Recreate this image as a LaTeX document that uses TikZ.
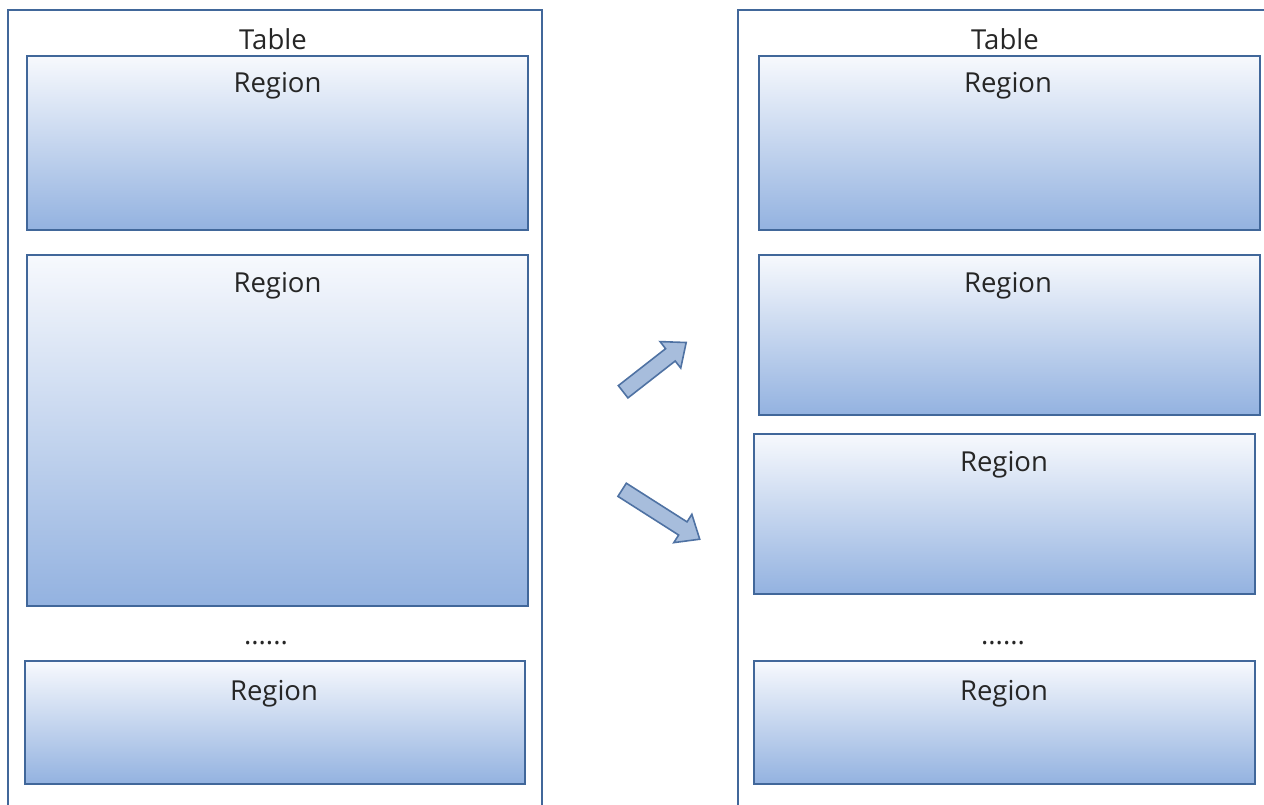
\documentclass[tikz,border=0pt]{standalone}
\usepackage{fontspec}
\setmainfont{Open Sans}
\usetikzlibrary{shapes.arrows}
\definecolor{edge}{HTML}{41679A}
\definecolor{topc}{HTML}{F7F9FD}
\definecolor{botc}{HTML}{93B2E0}
\definecolor{arrfill}{HTML}{A7BDDC}
\definecolor{arredge}{HTML}{4F72A3}
\tikzset{
  tablebox/.style={draw=edge, line width=2.4pt},
  regionbox/.style={draw=edge, line width=2pt, top color=topc, bottom color=botc, inner sep=0pt},
  lbl/.style={font=\fontsize{27.5}{30}\selectfont, text=black!85, inner sep=0pt},
  blockarrow/.style={single arrow, draw=arredge, fill=arrfill, line width=1.6pt,
    minimum width=0pt, inner xsep=0pt, inner ysep=7pt, text height=0pt, text depth=0pt,
    single arrow head extend=9pt, single arrow tip angle=80}
}
\begin{document}
\begin{tikzpicture}[x=1pt,y=-1pt]
\useasboundingbox (0,0) rectangle (1264,805);
\clip (0,0) rectangle (1264,805);
% tables
\draw[tablebox] (8,830) coordinate (tl1) -- (8,10) -- (542,10) -- (542,830) coordinate (tl2);
\draw[tablebox] (738,830) coordinate (tr1) -- (738,10) -- (1300,10) coordinate (tr2);
\node[lbl] (tlab1) at (273,39) {Table};
\node[lbl] (tlab2) at (1005,39) {Table};
% left regions
\path[regionbox] (27,56) rectangle (528,230) coordinate (la);
\node[lbl] (lal) at (277.5,86) {Region};
\path[regionbox] (27,255) rectangle (528,606) coordinate (lb);
\node[lbl] (lbl) at (277.5,286) {Region};
\node[lbl] (ldots) at (266,643) {......};
\path[regionbox] (25,661) rectangle (525,784) coordinate (lc);
\node[lbl] (lcl) at (274,694) {Region};
% right regions
\path[regionbox] (759,56) rectangle (1260,230) coordinate (ra);
\node[lbl] (ral) at (1008,86) {Region};
\path[regionbox] (759,255) rectangle (1260,415) coordinate (rb);
\node[lbl] (rbl) at (1008,286) {Region};
\path[regionbox] (754,434) rectangle (1255,594) coordinate (rc);
\node[lbl] (rcl) at (1004,465) {Region};
\node[lbl] (rdots) at (1003,643) {......};
\path[regionbox] (754,661) rectangle (1255,784) coordinate (rd);
\node[lbl] (rdl) at (1004,694) {Region};
% arrows
\node[blockarrow, minimum height=80pt, rotate=38] (up) at (651,370) {};
\node[blockarrow, minimum height=92pt, rotate=-32.5] (down) at (657,512) {};
\end{tikzpicture}
\end{document}
